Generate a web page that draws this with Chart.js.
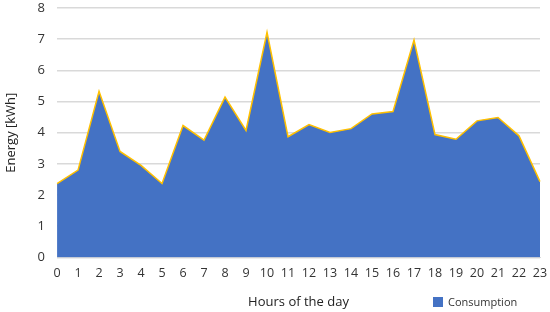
<!DOCTYPE html>
<html>
<head>
<meta charset="utf-8">
<script src="https://cdn.jsdelivr.net/npm/chart.js@4/dist/chart.umd.min.js"></script>
<style>
  html, body { margin: 0; padding: 0; background: #fff; }
  #wrap { width: 550px; height: 312px; position: relative; }
</style>
</head>
<body>
<div id="wrap"><canvas id="energyChart"></canvas></div>
<script>
// hours of the day (x axis)
const hours = ["0","1","2","3","4","5","6","7","8","9","10","11","12","13","14","15","16","17","18","19","20","21","22","23"];
// energy per hour, kWh
const consumption = [2.37, 2.8, 5.33, 3.4, 2.95, 2.37, 4.23, 3.76, 5.14, 4.07, 7.22, 3.87, 4.26, 4.01, 4.13, 4.6, 4.68, 6.97, 3.94, 3.79, 4.38, 4.49, 3.9, 2.43];
const yTicks = [0, 1, 2, 3, 4, 5, 6, 7, 8];

const FONT = "'Open Sans', 'Liberation Sans', sans-serif";

// draws the legend on the same row as the x axis title (bottom right)
const sideLegend = {
    id: "sideLegend",
    afterDraw(chart) {
        const ctx = chart.ctx;
        const ds = chart.data.datasets[0];
        const x = 433, y = 302;
        ctx.save();
        ctx.fillStyle = ds.backgroundColor;
        ctx.fillRect(x, y - 5, 10, 10);
        ctx.fillStyle = "#333";
        ctx.font = "11px " + FONT;
        ctx.textBaseline = "middle";
        ctx.textAlign = "left";
        ctx.fillText(ds.label, x + 15, y + 1);
        ctx.restore();
    }
};

document.addEventListener("DOMContentLoaded", function () {
    const ctx = document.getElementById("energyChart").getContext("2d");

    new Chart(ctx, {
        type: "line",
        data: {
            labels: hours,
            datasets: [{
                label: "Consumption",
                data: consumption,
                backgroundColor: "#4472C4",
                borderColor: "#FFC000",
                borderWidth: 1.5,
                fill: "origin",
                tension: 0,
                pointRadius: 0,
                pointHoverRadius: 0
            }]
        },
        options: {
            responsive: true,
            maintainAspectRatio: false,
            animation: false,
            layout: { padding: { left: 3, right: 0, top: 0, bottom: 0 } },
            plugins: {
                legend: { display: false },
                tooltip: { enabled: false }
            },
            scales: {
                x: {
                    offset: false,
                    grid: { display: false, drawTicks: false },
                    border: { display: true, color: "#d9d9d9" },
                    ticks: {
                        color: "#333",
                        font: { family: FONT, size: 12.5 },
                        padding: 9,
                        autoSkip: false,
                        maxRotation: 0
                    },
                    title: {
                        display: true,
                        text: "Hours of the day",
                        color: "#222",
                        font: { family: FONT, size: 13 },
                        padding: { top: 4, bottom: 2 }
                    },
                    afterFit: function (scale) {
                        scale.paddingLeft = 0;
                        scale.paddingRight = 10;
                    }
                },
                y: {
                    min: 0,
                    max: 8,
                    afterBuildTicks: function (axis) {
                        axis.ticks = yTicks.map(v => ({ value: v }));
                    },
                    grid: { color: "#d9d9d9", lineWidth: 1.5, drawTicks: false },
                    border: { display: false },
                    ticks: {
                        color: "#333",
                        font: { family: FONT, size: 13 },
                        padding: 12
                    },
                    title: {
                        display: true,
                        text: "Energy [kWh]",
                        color: "#222",
                        font: { family: FONT, size: 13 },
                        padding: { top: 0, bottom: 7 }
                    },
                    afterFit: function (scale) {
                        scale.paddingTop = 8;
                        scale.paddingBottom = 8;
                    }
                }
            }
        },
        plugins: [sideLegend]
    });
});
</script>
</body>
</html>
